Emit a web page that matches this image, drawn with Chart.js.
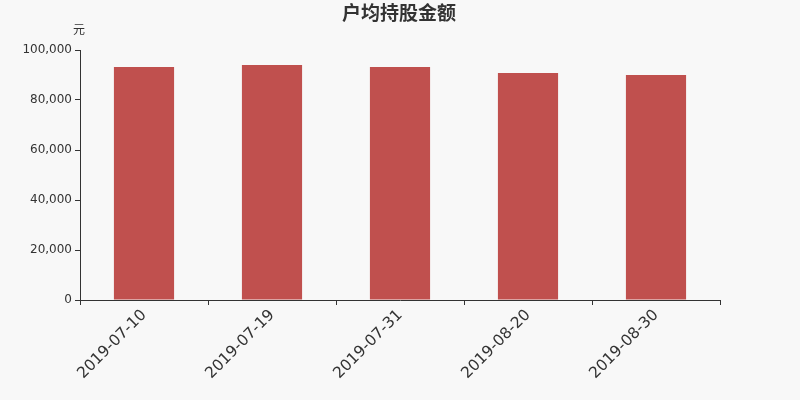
<!DOCTYPE html>
<html><head><meta charset="utf-8">
<script src="https://cdn.jsdelivr.net/npm/chart.js@4"></script>
<style>html,body{margin:0;padding:0;background:#f8f8f8;}#wrap{width:800px;height:400px;}</style>
</head><body><div id="wrap"><canvas id="c" width="800" height="400"></canvas></div>
<script>
const categories = ['2019-07-10','2019-07-19','2019-07-31','2019-08-20','2019-08-30'];
const values = [93250, 94000, 93200, 90850, 90000];
const yTicks = [0, 20000, 40000, 60000, 80000, 100000];
const titleText = '户均持股金额';
const unitText = '元';

const overlay = {
  id: 'overlay',
  beforeDraw(chart) {
    const ctx = chart.ctx;
    ctx.save();
    ctx.fillStyle = '#f8f8f8';
    ctx.fillRect(0, 0, chart.width, chart.height);
    ctx.restore();
  },
  afterDraw(chart) {
    const ctx = chart.ctx;
    ctx.save();
    ctx.fillStyle = '#333';
    ctx.textAlign = 'center';
    ctx.textBaseline = 'middle';
    ctx.font = 'bold 19px "Noto Sans CJK SC", sans-serif';
    ctx.fillText(titleText, 399, 13);
    ctx.font = '12px "Noto Sans CJK SC", sans-serif';
    ctx.fillText(unitText, 79, 29);
    ctx.restore();
  }
};

new Chart(document.getElementById('c'), {
  type: 'bar',
  data: {
    labels: categories,
    datasets: [{
      data: values,
      backgroundColor: '#c0504e',
      borderWidth: 0,
      categoryPercentage: 1,
      barPercentage: 0.47
    }]
  },
  options: {
    responsive: false,
    animation: false,
    devicePixelRatio: 1,
    layout: { padding: { top: 50, right: 80, left: 0, bottom: 0 } },
    plugins: { legend: { display: false }, title: { display: false }, tooltip: { enabled: false } },
    scales: {
      x: {
        offset: true,
        grid: { offset: true, drawOnChartArea: false, drawTicks: true, tickLength: 5, color: '#333' },
        border: { color: '#333', width: 1 },
        ticks: { color: '#333', font: { family: 'DejaVu Sans', size: 15.5 }, maxRotation: 45, minRotation: 45, padding: 1 },
        afterFit(s) { s.height = 100; }
      },
      y: {
        min: 0, max: 100000,
        afterBuildTicks(s) { s.ticks = yTicks.map(v => ({ value: v })); },
        grid: { drawOnChartArea: false, drawTicks: true, tickLength: 5, color: '#333' },
        border: { color: '#333', width: 1 },
        ticks: {
          color: '#333', font: { family: 'DejaVu Sans', size: 12 }, padding: 3,
          callback: v => v.toLocaleString('en-US')
        },
        afterFit(s) { s.width = 80; }
      }
    }
  },
  plugins: [overlay]
});
</script></body></html>
